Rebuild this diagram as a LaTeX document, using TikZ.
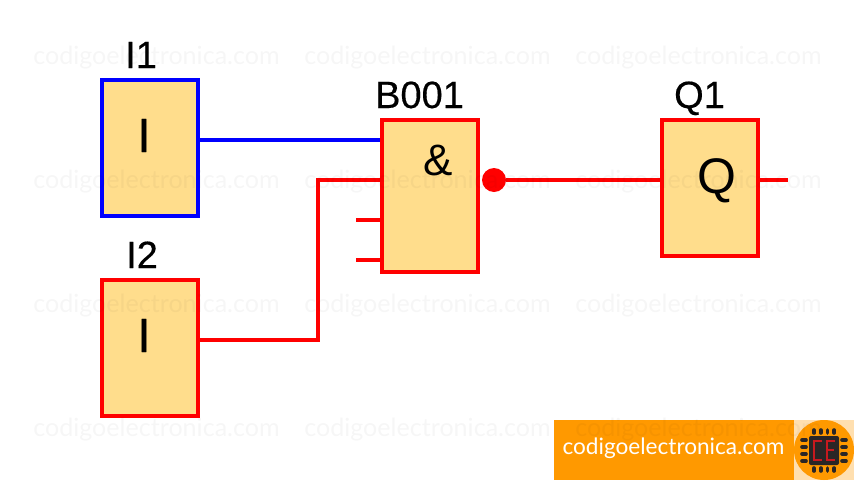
\documentclass[tikz,border=0pt]{standalone}
\usepackage{fontspec}
\setmainfont{Liberation Sans}
\newfontfamily\wmfont{Lato}
\newfontfamily\lblfont[FakeBold=0.4]{Liberation Sans}
\definecolor{boxfill}{HTML}{FFDD8C}
\definecolor{wireblue}{HTML}{0000FF}
\definecolor{wirered}{HTML}{FF0000}
\definecolor{bannerorange}{HTML}{FF9900}
\definecolor{logobg}{HTML}{FFDFAF}
\definecolor{chipdark}{HTML}{2A2626}
\definecolor{segred}{HTML}{C8191E}
\tikzset{
  x=1pt,y=-1pt,
  fblock/.style={draw=#1,fill=boxfill,line width=4pt,minimum width=96pt,inner sep=0pt,outer sep=0pt,rectangle},
  wire/.style={draw=#1,line width=4pt},
  lbl/.style={font=\lblfont\fontsize{38}{38}\selectfont,text=black,inner sep=0pt,anchor=base},
  sym/.style={font=\lblfont\fontsize{48}{48}\selectfont,text=black,inner sep=0pt,anchor=base},
  wm/.style={font=\wmfont\fontsize{25.1}{26}\selectfont,text=black,opacity=0.035,inner sep=0pt},
  pin/.style={draw=chipdark,line width=3.6pt,line cap=round},
  seg/.style={draw=segred,line width=1.8pt},
}
\begin{document}
\begin{tikzpicture}
\useasboundingbox (0,0) rectangle (854,480);
\fill[white] (0,0) rectangle (854,480);
\coordinate (s3) at (356,220);
\coordinate (s4) at (356,260);
\coordinate (qout) at (788,180);
\coordinate (bend1) at (318,340);
\coordinate (bend2) at (318,180);
\coordinate (b1) at (382,140);
\coordinate (b2) at (382,180);
\coordinate (b3) at (382,220);
\coordinate (b4) at (382,260);
\coordinate (i1o) at (198,140);
\coordinate (i2o) at (198,340);
\coordinate (qin) at (662,180);
\coordinate (qo) at (758,180);
\coordinate (dotc) at (494,180);
\draw[wire=wireblue] (i1o) -- (b1);
\draw[wire=wirered] (i2o) -- (bend1) -- (bend2) -- (b2);
\draw[wire=wirered] (s3) -- (b3);
\draw[wire=wirered] (s4) -- (b4);
\draw[wire=wirered] (qo) -- (qout);
\node[fblock=wireblue,minimum height=136pt] (i1) at (150,148) {};
\node[fblock=wirered,minimum height=136pt] (i2) at (150,348) {};
\node[fblock=wirered,minimum height=152pt] (b001) at (430,196) {};
\node[fblock=wirered,minimum height=136pt] (q1) at (710,188) {};
\node[circle,fill=wirered,minimum size=24pt,inner sep=0pt] (dot) at (dotc) {};
\draw[wire=wirered] (dot) -- (qin);
\node[lbl] (li1) at (141,68) {I1};
\node[lbl] (li2) at (142,268) {I2};
\node[lbl] (lb) at (419.5,108) {B001};
\node[lbl] (lq) at (699.5,108) {Q1};
\node[sym] (si1) at (144,152) {I};
\node[sym] (si2) at (144,352) {I};
\node[sym,font=\fontsize{44}{44}\selectfont] (sb) at (438,175) {\&};
\node[sym,font=\fontsize{50}{50}\selectfont] (sq) at (716.5,193) {Q};
\fill[bannerorange] (554,420) rectangle (794,480);
\fill[logobg] (794,420) rectangle (854,480);
\fill[bannerorange] (824,450) circle (30);
\node[font=\wmfont\fontsize{22.6}{24}\selectfont,text=white,inner sep=0pt] (bt) at (673.5,448) {codigoelectronica.com};
\fill[chipdark,rounded corners=2pt] (809,436) rectangle (839,465);
\foreach \p in {0,1,2,3}{
  \draw[pin] ({814+\p*6.7},430) -- ({814+\p*6.7},433);
  \draw[pin] ({814+\p*6.7},468) -- ({814+\p*6.7},471);
  \draw[pin] (802,{440+\p*7}) -- (806,{440+\p*7});
  \draw[pin] (842,{440+\p*7}) -- (846,{440+\p*7});
}
\draw[seg] (822,441) -- (814,441) -- (814,460) -- (822,460);
\draw[seg] (835,441) -- (827,441) -- (827,460) -- (835,460);
\draw[seg] (827,450) -- (834,450);
\foreach \wy in {57.5,181.5,305.5,429.5}{
  \foreach \wx in {156.5,427.5,698.5}{
    \node[wm] at (\wx,\wy) {codigoelectronica.com};
  }
}
\end{tikzpicture}
\end{document}
